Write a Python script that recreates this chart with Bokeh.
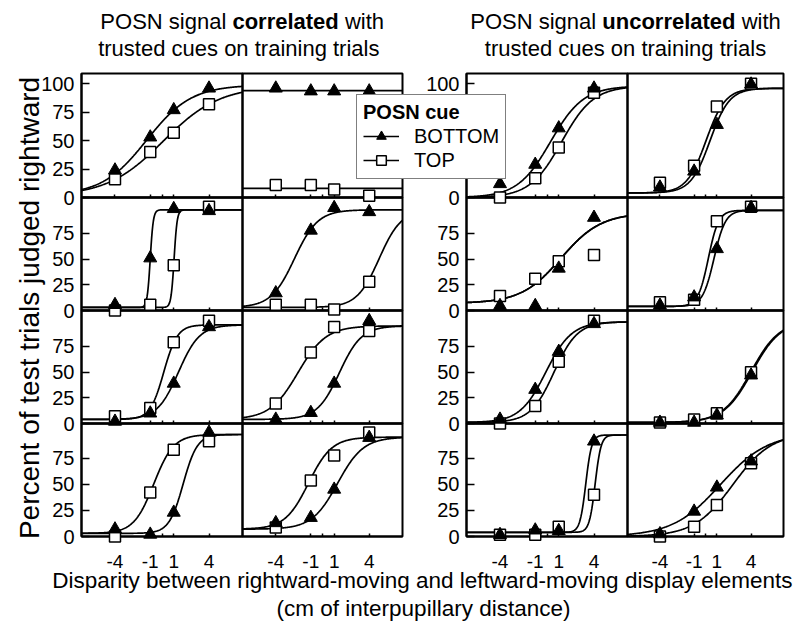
import numpy as np
from bokeh.plotting import figure
from bokeh.models import (Range1d, FixedTicker, LinearAxis, Label, Legend,
                          LegendItem, GridBox)
from bokeh.embed import file_html
from bokeh.resources import INLINE

# ---------------- data ----------------
X_PTS = [-4, -1, 1, 4]
X_TICKS = [-4, -1, 1, 4]
X_TICK_LABELS = ["-4", "-1", "1", "4"]
X_MINOR = [0]
Y_TICKS_FIRST = [0, 25, 50, 75, 100]
Y_TICKS_OTHER = [0, 25, 50, 75]

# percent judged rightward, per row, panels in columns 1..4
row1_bottom = [[24, 53, 77, 96], [96, 93.5, 93.5, 93.5], [12, 29, 61, 96], [9, 23, 64, 99.5]]
row1_top = [[16, 40, 57, 82], [11, 11, 7, 1.5], [0, 17, 44, 92], [13, 28, 80, 100]]
row2_bottom = [[5.6, 51, 99, 97], [17, 78, 100, 96], [4.6, 4.6, 41, 90.5], [5, 13, 60, 100]]
row2_top = [[0, 5.6, 44, 101], [5.6, 5.6, 1, 28], [14, 31, 48, 54], [8, 10.5, 87, 101]]
row3_bottom = [[2, 10, 39, 94], [4, 10.5, 39, 100], [4, 33, 70, 97], [1, 1, 8, 47]]
row3_top = [[7, 15, 79, 100], [19.5, 69, 94, 90], [0, 17, 60, 100], [1, 4, 10, 50]]
row4_bottom = [[7, 2, 23, 99.5], [13, 18, 45, 94.5], [1.7, 6, 5.5, 91], [2.4, 24, 47, 72]]
row4_top = [[0, 42, 83, 91], [8.6, 53.5, 77.5, 99.5], [1.7, 1.7, 9.3, 40], [0, 9.3, 30, 70]]

# fitted psychometric curves: (lower, upper, midpoint, spread)
row1_bottom_fit = [(2, 99, -1.3, 1.9), (94, 94, 0, 1), (0, 98, 0.3, 1.4), (4, 96, 0.4, 0.85)]
row1_top_fit = [(1, 98, 0.1, 2.4), (8, 8, 0, 1), (0, 98, 1.25, 1.35), (4, 96, 0.05, 0.85)]
row2_bottom_fit = [(3, 98, -1.0, 0.13), (3, 98, -2.4, 1.0), (7, 95, 1.2, 1.7), (4, 97.5, 0.75, 0.5)]
row2_top_fit = [(3, 98, 1.03, 0.13), (3, 98, 4.85, 0.95), (7, 95, 1.2, 1.7), (4, 97.5, 0.25, 0.45)]
row3_bottom_fit = [(4, 96, 1.4, 0.9), (4, 95, 1.45, 0.95), (1, 99, -0.1, 1.1), (1, 100, 4.1, 1.25)]
row3_top_fit = [(4, 96, 0.15, 0.58), (4, 95, -2.1, 1.2), (1, 99, 0.6, 1.0), (1, 100, 4.0, 1.25)]
row4_bottom_fit = [(3, 97.5, 1.8, 0.6), (7, 95, 1.3, 1.1), (4, 97, 3.3, 0.25), (0, 99, 1.3, 2.1)]
row4_top_fit = [(3, 97.5, -0.7, 0.85), (7, 95, -1.2, 1.0), (4, 97, 4.1, 0.25), (0, 99, 2.4, 1.7)]

BOTTOM = [row1_bottom, row2_bottom, row3_bottom, row4_bottom]
TOP = [row1_top, row2_top, row3_top, row4_top]
BOTTOM_FIT = [row1_bottom_fit, row2_bottom_fit, row3_bottom_fit, row4_bottom_fit]
TOP_FIT = [row1_top_fit, row2_top_fit, row3_top_fit, row4_top_fit]

# ---------------- layout (page pixels) ----------------
W, H = 798, 627
COL_EDGES = [(81, 242), (242, 402), (466, 627), (627, 783)]
ROW_EDGES = [(73, 197), (197, 310), (310, 423), (423, 536)]
X_RANGE = (-6.85, 6.85)
Y_RANGES = [(0, 109), (0, 110), (0, 110), (0, 108)]
FONT = "Liberation Sans"


def logistic(x, lo, hi, mid, spread):
    return lo + (hi - lo) / (1.0 + np.exp(-(x - mid) / spread))


def base_fig(x_rng, y_rng, left, right, top, bottom):
    p = figure(width=W, height=H, output_backend="svg", toolbar_location=None,
               title=None, x_range=Range1d(*x_rng), y_range=Range1d(*y_rng),
               x_axis_location=None, y_axis_location=None,
               min_border_left=left, min_border_right=right,
               min_border_top=top, min_border_bottom=bottom,
               background_fill_color=None, border_fill_color=None,
               outline_line_color=None, frame_align=False)
    p.grid.visible = False
    return p


def panel_fig(r, c):
    L, R = COL_EDGES[c]
    T, B = ROW_EDGES[r]
    p = base_fig(X_RANGE, Y_RANGES[r], L, W - R, T, H - B)
    p.outline_line_color = "black"
    p.outline_line_width = 2
    xa = LinearAxis(ticker=FixedTicker(ticks=X_TICKS, minor_ticks=X_MINOR),
                    major_label_overrides=dict(zip(X_TICKS, X_TICK_LABELS)),
                    major_tick_in=3, major_tick_out=0, minor_tick_in=3, minor_tick_out=0,
                    axis_line_width=2, major_tick_line_width=1.5, minor_tick_line_width=1.5,
                    major_label_standoff=18, major_label_text_font_size="19px",
                    major_label_text_font=FONT, major_label_text_color="black")
    if r < 3:
        xa.major_label_text_color = None
    p.add_layout(xa, "below")
    if c in (0, 2):
        ya = LinearAxis(ticker=FixedTicker(ticks=Y_TICKS_FIRST if r == 0 else Y_TICKS_OTHER,
                                           minor_ticks=[]),
                        major_tick_in=8, major_tick_out=0, minor_tick_line_color=None,
                        axis_line_width=2, major_tick_line_width=1.5,
                        major_label_standoff=7, major_label_text_font_size="20px",
                        major_label_text_font=FONT, major_label_text_color="black")
        p.add_layout(ya, "left")
    xs = np.linspace(X_RANGE[0], X_RANGE[1], 281)
    p.line(xs, logistic(xs, *TOP_FIT[r][c]), line_color="black", line_width=1.7)
    p.line(xs, logistic(xs, *BOTTOM_FIT[r][c]), line_color="black", line_width=1.7)
    return p


def marker_fig(r, c):
    # same scales as the panel, frame enlarged so markers on the border are not clipped
    L, R = COL_EDGES[c]
    T, B = ROW_EDGES[r]
    eL, eR, eT, eB = min(12, L), min(12, W - R), min(12, T), min(12, H - B)
    x0, x1 = X_RANGE
    y0, y1 = Y_RANGES[r]
    kx = (x1 - x0) / (R - L)
    ky = (y1 - y0) / (B - T)
    q = base_fig((x0 - eL * kx, x1 + eR * kx), (y0 - eB * ky, y1 + eT * ky),
                 L - eL, W - R - eR, T - eT, H - B - eB)
    q.scatter(X_PTS, TOP[r][c], marker="square", size=11, fill_color="white",
              line_color="black", line_width=1.5)
    q.scatter(X_PTS, BOTTOM[r][c], marker="triangle", size=13, fill_color="black",
              line_color="black", line_width=1)
    return q


figs = []
for r in range(4):
    for c in range(4):
        figs.append(panel_fig(r, c))
for r in range(4):
    for c in range(4):
        figs.append(marker_fig(r, c))

# ---------------- overlay: titles, axis titles, legend ----------------
ov = base_fig((0, W), (H, 0), 0, 0, 0, 0)


def add_label(x, y, text, align="center", size="22px", style="normal", angle=0):
    ov.add_layout(Label(x=x, y=y, text=text, text_align=align, text_baseline="middle",
                        text_font=FONT, text_font_size=size, text_font_style=style,
                        text_color="black", angle=angle, angle_units="deg"))


add_label(225.8, 20.8, "POSN signal", align="right")
add_label(285.1, 20.8, "correlated", style="bold")
add_label(344.4, 20.8, "with", align="left")
add_label(238.3, 47.5, "trusted cues on training trials")
add_label(595.7, 20.8, "POSN signal", align="right")
add_label(668.4, 20.8, "uncorrelated", style="bold")
add_label(741.2, 20.8, "with", align="left")
add_label(625.0, 47.5, "trusted cues on training trials")
add_label(421.8, 580, "Disparity between rightward-moving and leftward-moving display elements",
          size="22.5px")
add_label(423.0, 608, "(cm of interpupillary distance)", size="22.5px")
add_label(29, 307.5, "Percent of test trials judged rightward", size="28px", angle=90)

lb = ov.line([np.nan], [np.nan], line_color="black", line_width=1.7)
sb = ov.scatter([np.nan], [np.nan], marker="triangle", size=13, fill_color="black",
                line_color="black")
lt = ov.line([np.nan], [np.nan], line_color="black", line_width=1.7)
st = ov.scatter([np.nan], [np.nan], marker="square", size=11, fill_color="white",
                line_color="black", line_width=1.5)
legend = Legend(items=[LegendItem(label="BOTTOM", renderers=[lb, sb]),
                       LegendItem(label="TOP", renderers=[lt, st])],
                location=(356, H - 179), title="POSN cue",
                title_text_font=FONT, title_text_font_size="20px",
                title_text_font_style="bold", title_text_color="black", title_standoff=0,
                label_text_font=FONT, label_text_font_size="20px", label_text_color="black",
                padding=6, spacing=0, margin=0, glyph_width=36, glyph_height=24,
                label_height=24, label_standoff=15,
                border_line_color="black", border_line_width=1.5,
                background_fill_color="white", background_fill_alpha=1.0)
ov.add_layout(legend, "center")
figs.append(ov)

layout = GridBox(children=[(f, 0, 0) for f in figs])

with open("out.html", "w") as fh:
    fh.write(file_html(layout, INLINE))
